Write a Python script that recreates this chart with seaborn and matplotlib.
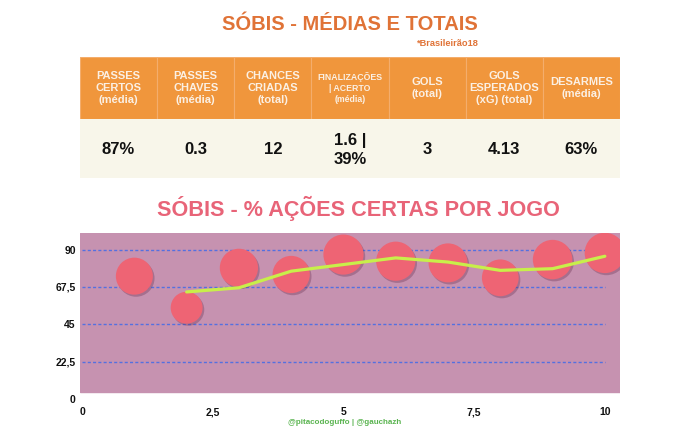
import numpy as np
import pandas as pd
import seaborn as sns
import matplotlib.pyplot as plt
from matplotlib.patches import Rectangle
import matplotlib.patheffects as pe

# tabela de medias e totais
colunas = ["PASSES\nCERTOS\n(média)", "PASSES\nCHAVES\n(média)", "CHANCES\nCRIADAS\n(total)",
           "FINALIZAÇÕES\n| ACERTO\n(média)", "GOLS\n(total)", "GOLS\nESPERADOS\n(xG) (total)",
           "DESARMES\n(média)"]
valores = ["87%", "0.3", "12", "1.6 |\n39%", "3", "4.13", "63%"]

# acoes certas por jogo
jogos = [1, 2, 3, 4, 5, 6, 7, 8, 9, 10]
acerto = [74, 55, 79, 75, 87, 83, 82, 73, 84, 88]
jogos_media = [2, 3, 4, 5, 6, 7, 8, 9, 10]
media_movel = [64.5, 67, 77, 81, 85, 82.5, 77.5, 78.5, 86]

xticks = [0, 2.5, 5, 7.5, 10]
xlabels = ["0", "2,5", "5", "7,5", "10"]
yticks = [0, 22.5, 45, 67.5, 90]
ylabels = ["0", "22,5", "45", "67,5", "90"]

sns.set_theme(style="white")
plt.rcParams['font.family'] = ['Liberation Sans', 'DejaVu Sans']

W, H = 700, 429
fig = plt.figure(figsize=(7, 4.29), dpi=100)
fig.patch.set_facecolor("white")

laranja = "#f0963c"
fig.text(350 / W, 1 - 25 / H, "SÓBIS - MÉDIAS E TOTAIS", ha="center", va="center",
         fontsize=14.5, fontweight="bold", color="#e07337")
fig.text(479 / W, 1 - 43.5 / H, "*Brasileirão18", ha="right", va="center",
         fontsize=6.7, fontweight="bold", color="#e07337")

# tabela
ax_t = fig.add_axes([80 / W, 1 - 178 / H, 540 / W, 121 / H])
ax_t.set_xlim(0, 7)
ax_t.set_ylim(121, 0)
ax_t.axis("off")
for i, (cab, val) in enumerate(zip(colunas, valores)):
    ax_t.add_patch(Rectangle((i, 0), 1, 62.3, facecolor=laranja, edgecolor="#f4ad6c", lw=0.8))
    ax_t.add_patch(Rectangle((i, 62.3), 1, 58.7, facecolor="#f8f6ea", edgecolor="none"))
    tam = 6.3 if i == 3 else 8
    ax_t.text(i + 0.5, 31, cab, ha="center", va="center", fontsize=tam, fontweight="bold",
              color="#fbf0e4", linespacing=1.3)
    ax_t.text(i + 0.5, 93, val, ha="center", va="center", fontsize=12, fontweight="bold",
              color="#111111", linespacing=1.3)

fig.text(358.5 / W, 1 - 208 / H, "SÓBIS - % AÇÕES CERTAS POR JOGO", ha="center", va="center",
         fontsize=15.6, fontweight="bold", color="#e86478")

# grafico
ax = fig.add_axes([80 / W, 30 / H, 540 / W, 166 / H])
ax.set_facecolor("none")
ax.set_xlim(-0.04, 10.29)
ax.set_ylim(0, 100)
ax.axhspan(4.2, 100, color="#c692b0", zorder=0)
ax.hlines(yticks[1:], 0, 10, colors="#5470e0", linestyles=(0, (2.2, 1.6)), lw=1, zorder=1)

df = pd.DataFrame({"jogo": jogos, "acerto": acerto})
sns.scatterplot(data=df, x="jogo", y="acerto", size="acerto", sizes=(0, 960), size_norm=(0, 100),
                color="#ee6474", edgecolor="none", alpha=1, legend=False,
                ax=ax, zorder=3)
ax.collections[-1].set_path_effects([pe.SimplePatchShadow(offset=(1.2, -1.5), shadow_rgbFace="#6a3050",
                                                          alpha=0.35), pe.Normal()])
sns.lineplot(x=jogos_media, y=media_movel, color="#c8ef4a", lw=2.3, ax=ax, zorder=4)

ax.set_xticks(xticks, xlabels)
ax.set_yticks(yticks, ylabels)
ax.tick_params(length=0, labelsize=7.5, colors="#111111")
ax.tick_params(axis="x", pad=6)
ax.tick_params(axis="y", pad=3)
for lab in ax.get_xticklabels() + ax.get_yticklabels():
    lab.set_fontweight("bold")
ax.set_xlabel("")
ax.set_ylabel("")
for s in ax.spines.values():
    s.set_visible(False)

fig.text(345 / W, 1 - 422 / H, "@pitacodoguffo | @gauchazh", ha="center", va="center",
         fontsize=5.8, fontweight="bold", color="#5ab450")

fig.savefig("out.png", dpi=100)
